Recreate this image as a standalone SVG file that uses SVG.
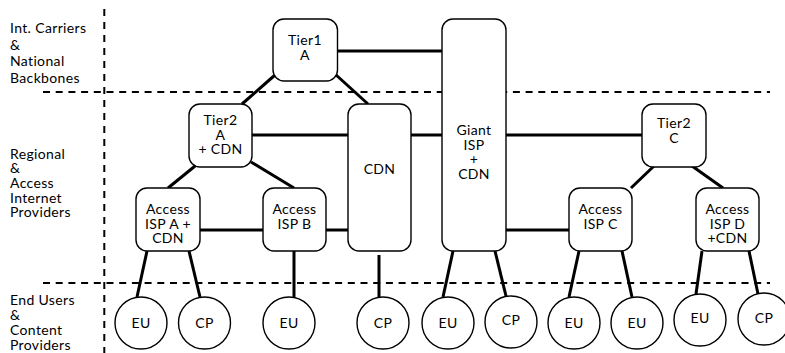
<svg xmlns="http://www.w3.org/2000/svg" width="785" height="353" viewBox="0 0 785 353">
  <style>
    text { font-family: Lato, "Open Sans", "Liberation Sans", sans-serif; font-size: 14px; letter-spacing: 0.35px; fill: #000; }
    .c { text-anchor: middle; }
    .box { fill: #fff; stroke: #000; stroke-width: 1.4; }
    .link { stroke: #000; stroke-width: 3; fill: none; }
    .tier { stroke: #000; stroke-width: 2; stroke-dasharray: 7 5.7; fill: none; }
  </style>

  <!-- tier separators -->
  <g id="separators">
    <line class="tier" x1="43" y1="92" x2="770" y2="92"/>
    <line class="tier" x1="43" y1="283" x2="770" y2="283"/>
    <line class="tier" x1="104.3" y1="9" x2="104.3" y2="353" style="stroke-dasharray:7 6"/>
  </g>

  <!-- tier labels -->
  <g id="labels">
    <text x="10" y="32.7">Int. Carriers</text>
    <text x="10" y="49.5">&amp;</text>
    <text x="10" y="66.2">National</text>
    <text x="10" y="82.8">Backbones</text>
    <text x="10" y="158.5">Regional</text>
    <text x="10" y="173.2">&amp;</text>
    <text x="10" y="188">Access</text>
    <text x="10" y="202.6">Internet</text>
    <text x="10" y="217.3">Providers</text>
    <text x="10" y="305">End Users</text>
    <text x="10" y="320">&amp;</text>
    <text x="10" y="335">Content</text>
    <text x="10" y="350">Providers</text>
  </g>

  <!-- connectors -->
  <g id="connectors">
    <line class="link" x1="337" y1="51" x2="442" y2="51"/>
    <line class="link" x1="275" y1="75" x2="242" y2="104"/>
    <line class="link" x1="335" y1="74" x2="368" y2="104"/>
    <line class="link" x1="252" y1="135" x2="348" y2="135"/>
    <line class="link" x1="411" y1="135" x2="442" y2="135"/>
    <line class="link" x1="506" y1="135" x2="642" y2="135"/>
    <line class="link" x1="200" y1="162" x2="168" y2="188"/>
    <line class="link" x1="251" y1="162" x2="294" y2="188"/>
    <line class="link" x1="200" y1="230" x2="263" y2="230"/>
    <line class="link" x1="326" y1="230" x2="348" y2="230"/>
    <line class="link" x1="506" y1="230" x2="569" y2="230"/>
    <line class="link" x1="654" y1="166" x2="631" y2="188"/>
    <line class="link" x1="692" y1="166" x2="723" y2="188"/>
    <line class="link" x1="147" y1="251" x2="137" y2="297"/>
    <line class="link" x1="189" y1="251" x2="200" y2="297"/>
    <line class="link" x1="294" y1="251" x2="294" y2="297"/>
    <line class="link" x1="379" y1="255" x2="379" y2="297"/>
    <line class="link" x1="453" y1="251" x2="443" y2="297"/>
    <line class="link" x1="495" y1="251" x2="506" y2="296"/>
    <line class="link" x1="579" y1="251" x2="569" y2="297"/>
    <line class="link" x1="622" y1="251" x2="632" y2="297"/>
    <line class="link" x1="702" y1="251" x2="696" y2="294"/>
    <line class="link" x1="749" y1="251" x2="758" y2="294"/>
  </g>

  <!-- backbone tier -->
  <g id="tier1-a">
    <rect class="box" x="273" y="19" width="64.5" height="62" rx="11"/>
    <text class="c" x="305" y="45">Tier1</text>
    <text class="c" x="305" y="60">A</text>
  </g>

  <g id="giant-isp">
    <rect class="box" x="442" y="19" width="64" height="232" rx="11"/>
    <text class="c" x="474" y="135">Giant</text>
    <text class="c" x="474" y="149.5">ISP</text>
    <text class="c" x="474" y="164">+</text>
    <text class="c" x="474" y="178.5">CDN</text>
  </g>

  <!-- regional tier -->
  <g id="tier2-a">
    <rect class="box" x="189" y="104" width="63" height="63" rx="11"/>
    <text class="c" x="220.5" y="125">Tier2</text>
    <text class="c" x="220.5" y="139.5">A</text>
    <text class="c" x="220.5" y="154">+ CDN</text>
  </g>

  <g id="cdn">
    <rect class="box" x="348" y="104" width="63" height="147" rx="11"/>
    <text class="c" x="379.5" y="174">CDN</text>
  </g>

  <g id="tier2-c">
    <rect class="box" x="642" y="104" width="64" height="63" rx="11"/>
    <text class="c" x="674" y="128">Tier2</text>
    <text class="c" x="674" y="143">C</text>
  </g>

  <g id="access-isp-a">
    <rect class="box" x="136" y="188" width="64" height="63" rx="11"/>
    <text class="c" x="168" y="214">Access</text>
    <text class="c" x="168" y="228.5">ISP A +</text>
    <text class="c" x="168" y="243">CDN</text>
  </g>

  <g id="access-isp-b">
    <rect class="box" x="263" y="188" width="63" height="63" rx="11"/>
    <text class="c" x="294.5" y="214">Access</text>
    <text class="c" x="294.5" y="228.5">ISP B</text>
  </g>

  <g id="access-isp-c">
    <rect class="box" x="569" y="188" width="63" height="63" rx="11"/>
    <text class="c" x="600.5" y="214">Access</text>
    <text class="c" x="600.5" y="228.5">ISP C</text>
  </g>

  <g id="access-isp-d">
    <rect class="box" x="696" y="188" width="63" height="63" rx="11"/>
    <text class="c" x="727.5" y="214">Access</text>
    <text class="c" x="727.5" y="228.5">ISP D</text>
    <text class="c" x="727.5" y="243">+CDN</text>
  </g>

  <!-- end users and content providers -->
  <g id="eu-1"><circle class="box" cx="141" cy="323" r="26"/><text class="c" x="141" y="327.5">EU</text></g>
  <g id="cp-1"><circle class="box" cx="204.5" cy="323" r="26"/><text class="c" x="204.5" y="327.5">CP</text></g>
  <g id="eu-2"><circle class="box" cx="289" cy="323" r="26"/><text class="c" x="289" y="327.5">EU</text></g>
  <g id="cp-2"><circle class="box" cx="383" cy="323" r="26"/><text class="c" x="383" y="327.5">CP</text></g>
  <g id="eu-3"><circle class="box" cx="448" cy="323" r="26"/><text class="c" x="448" y="327.5">EU</text></g>
  <g id="cp-3"><circle class="box" cx="511" cy="322" r="26"/><text class="c" x="511" y="325">CP</text></g>
  <g id="eu-4"><circle class="box" cx="574" cy="323" r="26"/><text class="c" x="574" y="327.5">EU</text></g>
  <g id="eu-5"><circle class="box" cx="637" cy="323" r="26"/><text class="c" x="637" y="327.5">EU</text></g>
  <g id="eu-6"><circle class="box" cx="700" cy="320" r="26"/><text class="c" x="700" y="323">EU</text></g>
  <g id="cp-4"><circle class="box" cx="764" cy="319" r="26"/><text class="c" x="764" y="322.5">CP</text></g>
</svg>
